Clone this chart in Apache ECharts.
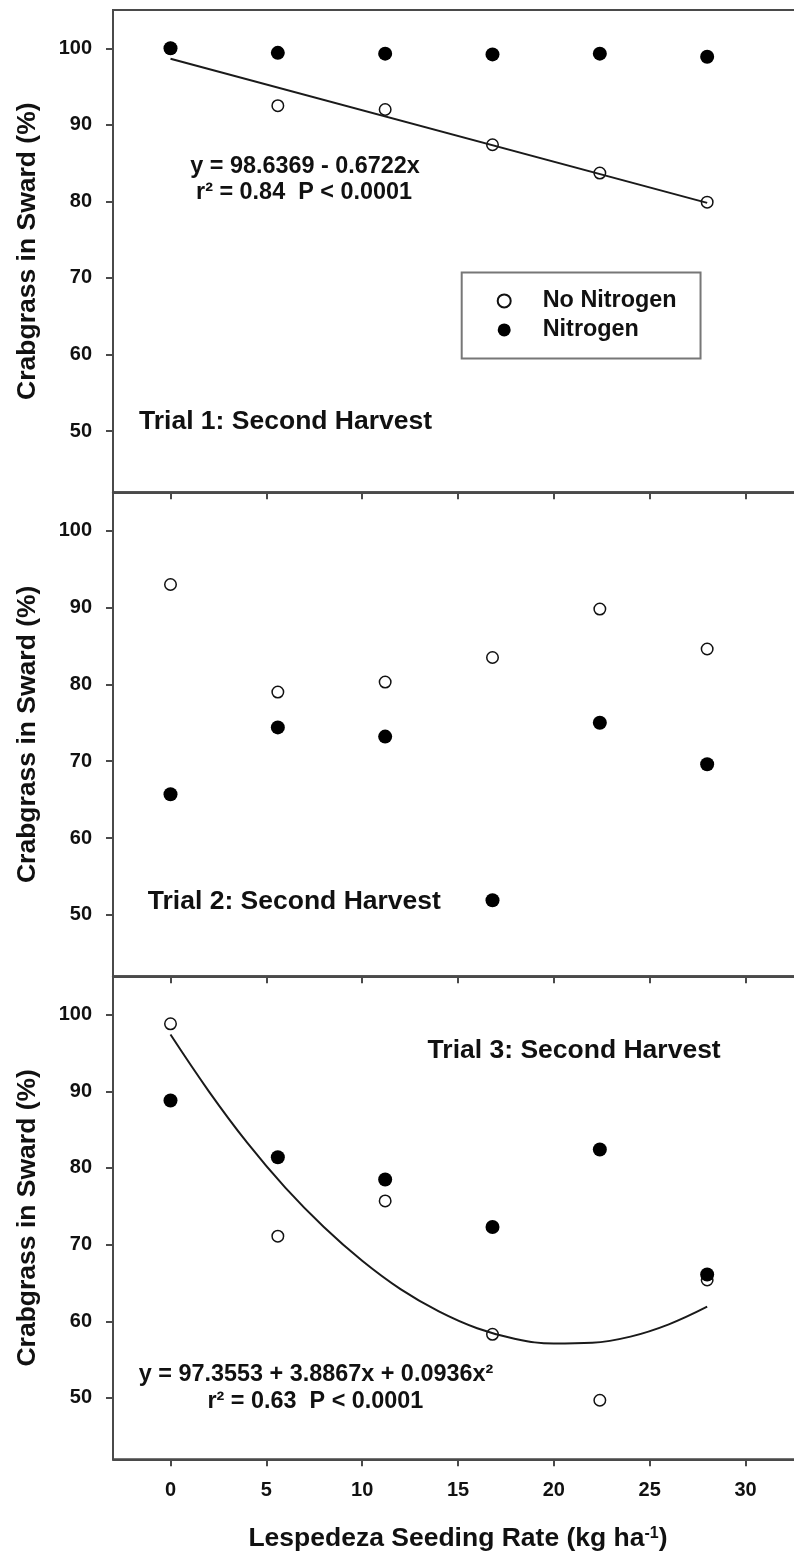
<!DOCTYPE html>
<html>
<head>
<meta charset="utf-8">
<title>Crabgrass in Sward</title>
<script src="https://cdn.jsdelivr.net/npm/echarts@6/dist/echarts.min.js"></script>
<style>
  html, body { margin: 0; padding: 0; background: #ffffff; overflow: hidden; }
  /* the plot frames run past the right edge of the page */
  #chart { width: 812px; height: 1556px; }
</style>
</head>
<body>
<div id="chart"></div>
<script>
// Lespedeza seeding rate (kg/ha), shared by all three trials
const seedingRate = [0, 5.6, 11.2, 16.8, 22.4, 28];

// Crabgrass share of sward (%), second harvest
const trial1NoN = [100.0, 92.5, 92.0, 87.4, 83.7, 79.9];
const trial1N   = [100.0, 99.4, 99.3, 99.2, 99.3, 98.9];
const trial2NoN = [93.0, 79.0, 80.3, 83.5, 89.8, 84.6];
const trial2N   = [65.7, 74.4, 73.2, 51.9, 75.0, 69.6];
const trial3NoN = [98.8, 71.1, 75.7, 58.3, 49.7, 65.4];
const trial3N   = [88.8, 81.4, 78.5, 72.3, 82.4, 66.1];

// Fitted lines for the No Nitrogen plots
const trial1FitX = [0, 28];
const trial1FitY = [98.64, 79.81];
const trial3FitX = [0, 2, 4, 6, 8, 10, 12, 14, 16, 18, 20, 22, 24, 26, 28];
const trial3FitY = [97.4, 90.0, 83.3, 77.4, 72.3, 67.9, 64.2, 61.3, 59.1, 57.7, 57.1, 57.2, 58.0, 59.6, 61.9];

// Axis ticks
const xTicks = [0, 5, 10, 15, 20, 25, 30];
const yTicks = [50, 60, 70, 80, 90, 100];

const FONT = 'Liberation Sans, Arial, Helvetica, sans-serif';
const AXIS_COLOR = '#4a4a4a';
const TEXT_COLOR = '#111111';

const pairs = (xs, ys) => xs.map((x, i) => [x, ys[i]]);

const panels = [
  { top: 10,    height: 482.3, noN: trial1NoN, n: trial1N },
  { top: 492.3, height: 484,   noN: trial2NoN, n: trial2N },
  { top: 976.3, height: 483,   noN: trial3NoN, n: trial3N }
];

const grids = panels.map(p => ({
  left: 113, right: 9, top: p.top, height: p.height,
  show: true, borderColor: AXIS_COLOR, borderWidth: 2,
  backgroundColor: 'transparent', containLabel: false
}));

const xAxes = panels.map((p, i) => ({
  type: 'value', gridIndex: i, min: -3, max: 33,
  splitLine: { show: false },
  axisLine: { show: true, onZero: false, lineStyle: { color: AXIS_COLOR, width: 2 } },
  axisTick: { show: true, inside: false, length: 7, customValues: xTicks,
              lineStyle: { color: AXIS_COLOR, width: 2 } },
  axisLabel: { show: i === 2, customValues: xTicks, margin: 21,
               fontFamily: FONT, fontWeight: 'bold', fontSize: 20, color: TEXT_COLOR },
  name: i === 2 ? 'Lespedeza Seeding Rate (kg ha{sup|-1})' : '',
  nameLocation: 'middle', nameGap: 66,
  nameTextStyle: {
    fontFamily: FONT, fontWeight: 'bold', fontSize: 26.5, color: TEXT_COLOR,
    rich: { sup: { fontFamily: FONT, fontWeight: 'bold', fontSize: 16, color: TEXT_COLOR,
                   verticalAlign: 'top', padding: [0, 0, 6, 0] } }
  }
}));

const yAxes = panels.map((p, i) => ({
  type: 'value', gridIndex: i, min: 42, max: 105,
  splitLine: { show: false },
  axisLine: { show: true, onZero: false, lineStyle: { color: AXIS_COLOR, width: 2 } },
  axisTick: { show: true, inside: false, length: 7, customValues: yTicks,
              lineStyle: { color: AXIS_COLOR, width: 2 } },
  axisLabel: { show: true, customValues: yTicks, margin: 21,
               fontFamily: FONT, fontWeight: 'bold', fontSize: 20, color: TEXT_COLOR },
  name: 'Crabgrass in Sward (%)',
  nameLocation: 'middle', nameGap: 72, nameRotate: 90,
  nameTextStyle: { fontFamily: FONT, fontWeight: 'bold', fontSize: 26.5, color: TEXT_COLOR }
}));

const openStyle = { color: '#ffffff', borderColor: '#111111', borderWidth: 1.5, opacity: 1 };
const filledStyle = { color: '#000000', borderColor: '#000000', borderWidth: 0, opacity: 1 };

const series = [];
panels.forEach((p, i) => {
  series.push({
    name: 'No Nitrogen', type: 'scatter', xAxisIndex: i, yAxisIndex: i,
    symbol: 'circle', symbolSize: 11.5, itemStyle: openStyle,
    data: pairs(seedingRate, p.noN), z: 3
  });
});
series.push({
  name: 'Trial 1 fit', type: 'line', xAxisIndex: 0, yAxisIndex: 0,
  data: pairs(trial1FitX, trial1FitY), showSymbol: false, symbol: 'none',
  lineStyle: { color: '#1a1a1a', width: 2 }, z: 4
});
series.push({
  name: 'Trial 3 fit', type: 'line', xAxisIndex: 2, yAxisIndex: 2,
  data: pairs(trial3FitX, trial3FitY), showSymbol: false, symbol: 'none', smooth: 0.4,
  lineStyle: { color: '#1a1a1a', width: 2 }, z: 4
});
panels.forEach((p, i) => {
  series.push({
    name: 'Nitrogen', type: 'scatter', xAxisIndex: i, yAxisIndex: i,
    symbol: 'circle', symbolSize: 14, itemStyle: filledStyle,
    data: pairs(seedingRate, p.n), z: 5
  });
});

const label = (text, x, y, size, align) => ({
  type: 'text', x: x, y: y, z: 10,
  style: { text: text, fill: TEXT_COLOR, textAlign: align || 'center', textVerticalAlign: 'middle',
           font: 'bold ' + size + 'px ' + FONT }
});

const chart = echarts.init(document.getElementById('chart'), null, { renderer: 'canvas' });
chart.setOption({
  animation: false,
  backgroundColor: '#ffffff',
  grid: grids,
  xAxis: xAxes,
  yAxis: yAxes,
  legend: {
    data: [{ name: 'No Nitrogen', icon: 'circle' }, { name: 'Nitrogen', icon: 'circle' }],
    orient: 'vertical', left: 461.7, top: 272.4,
    padding: [17, 24, 17, 35],
    itemWidth: 13, itemHeight: 13, itemGap: 6,
    borderColor: '#777777', borderWidth: 2, borderRadius: 0,
    selectedMode: false,
    textStyle: { fontFamily: FONT, fontWeight: 'bold', fontSize: 23.4, color: TEXT_COLOR,
                 padding: [0, 0, 0, 27] }
  },
  graphic: [
    label('y = 98.6369 - 0.6722x', 305, 166.7, 23.4),
    label('r\u00B2 = 0.84  P < 0.0001', 304, 192.8, 23.4),
    label('Trial 1: Second Harvest', 139, 421.6, 26.5, 'left'),
    label('Trial 2: Second Harvest', 147.8, 901.7, 26.5, 'left'),
    label('Trial 3: Second Harvest', 427.6, 1051, 26.5, 'left'),
    label('y = 97.3553 + 3.8867x + 0.0936x\u00B2', 316, 1375, 23.4),
    label('r\u00B2 = 0.63  P < 0.0001', 315.4, 1401.7, 23.4)
  ],
  series: series
});
</script>
</body>
</html>
